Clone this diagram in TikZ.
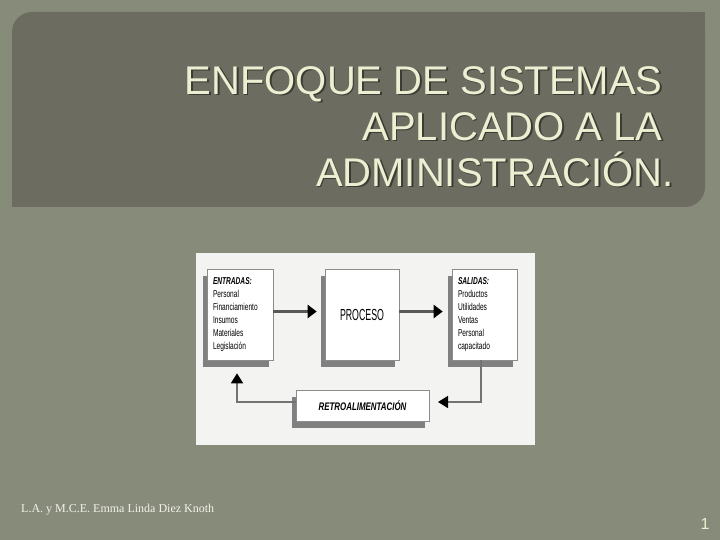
\documentclass[tikz,border=0pt]{standalone}
\usepackage{fontspec}
\setmainfont{Liberation Serif}
\setsansfont{Liberation Sans}
\newfontfamily\narrowfont[FakeStretch=0.66]{Liberation Sans}
\newfontfamily\procfont[FakeStretch=0.55]{Liberation Sans}
\newfontfamily\retrofont[FakeStretch=0.72]{Liberation Sans}
\usepackage{tikz}
\usetikzlibrary{arrows.meta,shadows}
\definecolor{fondo}{HTML}{878B79}
\definecolor{panel}{HTML}{6C6D60}
\definecolor{titulo}{HTML}{EEEED2}
\definecolor{titsombra}{HTML}{3A3B33}
\definecolor{lamina}{HTML}{F3F3F1}
\definecolor{pie}{HTML}{F2F2EA}

\begin{document}
\begin{tikzpicture}[x=1pt,y=-1pt,
  caja/.style={draw=black!45, fill=white, line width=0.6pt, minimum height=91pt, inner sep=0pt,
    general shadow={shadow xshift=-4pt, shadow yshift=-7pt, fill=black!50}},
  lista/.style={align=left, font=\narrowfont\fontsize{10}{13}\selectfont},
  flecha/.style={draw=black!65, line width=3pt, -{Triangle[length=9pt,width=13pt,color=black]}},
  vuelta/.style={draw=black!55, line width=1.6pt, -{Triangle[length=10pt,width=12pt,color=black]}},
  titular/.style={anchor=north east, align=right, inner sep=0pt, font=\sffamily\fontsize{40}{46}\selectfont}]
% fondo
\useasboundingbox (0,0) rectangle (720,540);
\fill[fondo] (0,0) rectangle (720,540);
% panel del título
\fill[panel, rounded corners=20pt] (12,12) rectangle (705,207);
\fill[panel] (12,187) rectangle (32,207);
\fill[panel] (685,12) rectangle (705,32);
% título
\node[titular, text=titsombra] (titsomb) at (675.5,67.5)
  {\mbox{ENFOQUE DE SISTEMAS\ }\\ \mbox{APLICADO A LA\ }\\ ADMINISTRACIÓN.};
\node[titular, text=titulo] (tit) at (674,66)
  {\mbox{ENFOQUE DE SISTEMAS\ }\\ \mbox{APLICADO A LA\ }\\ ADMINISTRACIÓN.};
% lámina
\fill[lamina] (196,253) rectangle (535,445);
% cajas
\node[caja, lista, minimum width=66pt, text width=54pt] (ent) at (240,314.5)
  {\textbf{\textit{ENTRADAS:}}\\Personal\\Financiamiento\\Insumos\\Materiales\\Legislación};
\node[caja, minimum width=74pt, font=\procfont\fontsize{16}{16}\selectfont] (proc) at (362,314.5) {PROCESO};
\node[caja, lista, minimum width=65pt, text width=53pt] (sal) at (484.5,314.5)
  {\textbf{\textit{SALIDAS:}}\\Productos\\Utilidades\\Ventas\\Personal\\capacitado};
\node[caja, minimum width=133pt, minimum height=31pt, font=\retrofont\bfseries\itshape\fontsize{11}{11}\selectfont]
  (retro) at (362.5,405.5) {RETROALIMENTACIÓN};
% flechas
\draw[flecha, shorten >=8pt] ([yshift=3pt]ent.east) -- ([yshift=3pt]proc.west);
\draw[flecha, shorten >=9pt] ([yshift=3pt]proc.east) -- ([yshift=3pt]sal.west);
\coordinate (fbR) at (438,402);
\draw[vuelta] ([xshift=-3.5pt]sal.south) |- (fbR);
\draw[vuelta, shorten >=13pt] (retro.west |- fbR) -| ([xshift=-3pt]ent.south);
% pie
\node[anchor=base west, inner sep=0pt, text=pie, font=\fontsize{12}{12}\selectfont] (autor) at (21,512)
  {L.A. y M.C.E. Emma Linda Diez Knoth};
\node[anchor=base, inner sep=0pt, text=titulo, font=\sffamily\fontsize{16}{16}\selectfont] (pag) at (705,529) {1};
\end{tikzpicture}
\end{document}
